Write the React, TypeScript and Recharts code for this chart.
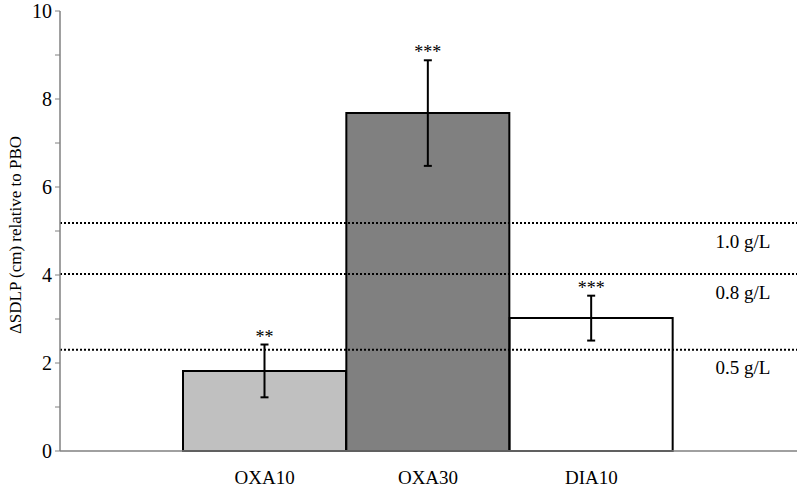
import React from 'react';
import {
  BarChart, Bar, XAxis, YAxis, ErrorBar, Cell, LabelList, ReferenceLine, Label
} from 'recharts';

// bar groups and their values (cm, relative to placebo)
const groups = ['OXA10', 'OXA30', 'DIA10'];
const means = [1.82, 7.68, 3.02];
const errs = [0.6, 1.2, 0.51];
const stars = ['**', '***', '***'];

// BAC reference levels
const limitValues = [5.18, 4.02, 2.3];
const limitLabels = ['1.0 g/L', '0.8 g/L', '0.5 g/L'];

const yTicks = [0, 1, 2, 3, 4, 5, 6, 7, 8, 9, 10];

const barFills = ['#c0c0c0', '#808080', '#ffffff'];
const serif = '"Liberation Serif", "Times New Roman", serif';

const data = groups.map((g, i) => ({ name: g, mean: means[i], err: errs[i], stars: stars[i] }));

const renderStars = (props: any) => {
  const { x, y, width, height, index, value } = props;
  const perUnit = height / means[index];
  const errTop = y + height - (means[index] + errs[index]) * perUnit;
  return (
    <text x={x + width / 2} y={errTop - 2} textAnchor="middle" fontSize={18} fontFamily={serif} fill="#000">
      {value}
    </text>
  );
};

const limitLabel = (text: string) => (props: any) => {
  const vb = props.viewBox;
  return (
    <text x={vb.x + vb.width - 54} y={vb.y + 18} textAnchor="middle" dominantBaseline="central"
      fontSize={19} fontFamily={serif} fill="#000">
      {text}
    </text>
  );
};

export default function App() {
  return (
    <div style={{ position: 'absolute', left: 0, top: 0, width: 799, height: 489, background: '#fff' }}>
      <BarChart width={799} height={489} data={data} barCategoryGap={0}
        margin={{ top: 11, right: 2, bottom: 0, left: 0 }}>
        <XAxis dataKey="name" height={38} padding={{ left: 123, right: 124 }} tickLine={false}
          axisLine={{ stroke: '#808080', strokeWidth: 1.5 }} tickMargin={14}
          tick={{ fontSize: 19, fontFamily: serif, fill: '#000' }} />
        <YAxis domain={[0, 10]} ticks={yTicks} interval={0} width={60} tickSize={5} tickMargin={3}
          tickFormatter={(v) => (v % 2 === 0 ? String(v) : '')}
          axisLine={{ stroke: '#808080', strokeWidth: 1.5 }} tickLine={{ stroke: '#808080' }}
          tick={{ fontSize: 20, fontFamily: serif, fill: '#000' }}>
          <Label content={() => (
            <text x={15} y={235} transform="rotate(-90 15 235)" textAnchor="middle" dominantBaseline="central"
              fontSize={17} fontFamily={serif} fill="#000">ΔSDLP (cm) relative to PBO</text>
          )} />
        </YAxis>
        <Bar dataKey="mean" stroke="#000" strokeWidth={2} isAnimationActive={false}>
          {data.map((d, i) => <Cell key={d.name} fill={barFills[i]} />)}
          <ErrorBar dataKey="err" direction="y" width={4} stroke="#000" strokeWidth={2} />
          <LabelList dataKey="stars" content={renderStars} />
        </Bar>
        {limitValues.map((v, i) => (
          <ReferenceLine key={limitLabels[i]} y={v} stroke="#000" strokeWidth={2} strokeDasharray="2 2"
            label={limitLabel(limitLabels[i])} />
        ))}
      </BarChart>
    </div>
  );
}
